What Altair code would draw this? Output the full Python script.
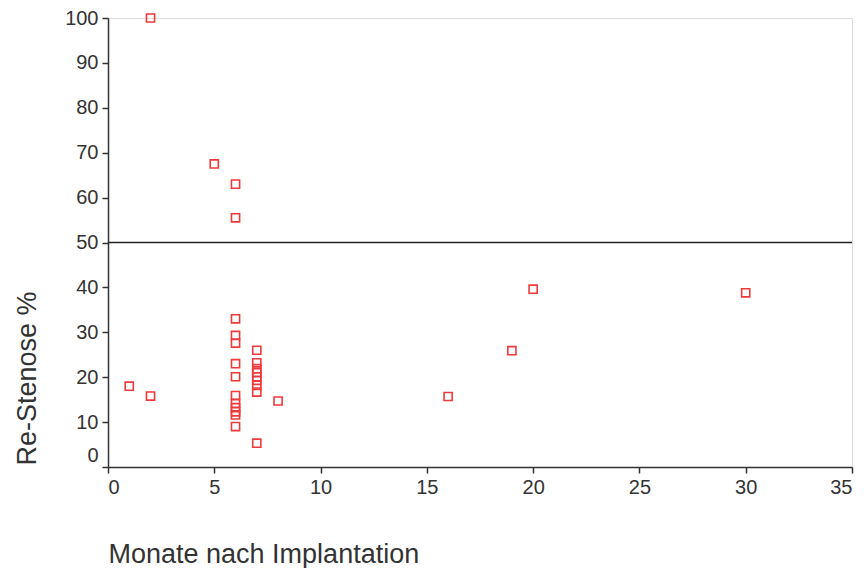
import altair as alt
import pandas as pd

months = [2, 5, 6, 6, 1, 2,
          6, 6, 6, 6, 6, 6, 6, 6, 6, 6, 6,
          7, 7, 7, 7, 7, 7, 7, 7, 7,
          8, 16, 19, 20, 30]
restenosis = [100, 67.5, 63, 55.5, 18, 15.8,
              33, 29.3, 27.6, 23, 20.1, 15.9, 14.2, 13.2, 12.3, 11.6, 9,
              26, 23.2, 21.9, 21, 20.1, 19.3, 18.2, 16.7, 5.3,
              14.7, 15.7, 25.9, 39.6, 38.8]
threshold = [50]
x_ticks = [0, 5, 10, 15, 20, 25, 30, 35]
y_ticks = [0, 10, 20, 30, 40, 50, 60, 70, 80, 90, 100]

df = pd.DataFrame({"Monate": months, "Restenose": restenosis})
df_line = pd.DataFrame({"y": threshold})

FONT = "Liberation Sans, Arial, Helvetica, sans-serif"
AXC = "#333333"

x_axis = alt.Axis(
    values=x_ticks, grid=False, domainColor=AXC, domainWidth=1.5,
    tickColor=AXC, tickWidth=1.5, tickSize=6,
    labelFont=FONT, labelFontSize=20, labelColor="#333333", labelPadding=4,
    title="Monate nach Implantation", titleFont=FONT, titleFontSize=27,
    titleFontWeight="normal", titleColor="#333333",
    titleAnchor="start", titleAlign="left", titleX=0, titleY=95,
    titleBaseline="alphabetic",
)
y_axis = alt.Axis(
    values=y_ticks, grid=False, domainColor=AXC, domainWidth=1.5,
    tickColor=AXC, tickWidth=1.5, tickSize=6,
    labelFont=FONT, labelFontSize=20, labelColor="#333333", labelPadding=4,
    labelOffset=alt.condition("datum.value == 0", alt.value(-12), alt.value(0)),
    title="Re-Stenose %", titleFont=FONT, titleFontSize=27,
    titleFontWeight="normal", titleColor="#333333",
    titleAngle=270, titleAnchor="start", titleAlign="left",
    titleX=-73, titleY=447, titleBaseline="alphabetic",
)

points = alt.Chart(df).mark_point(
    shape="square", filled=False, color="#ee3a3a", strokeWidth=1.6, size=66, opacity=1
).encode(
    x=alt.X("Monate:Q", scale=alt.Scale(domain=[0, 35], nice=False, zero=True), axis=x_axis),
    y=alt.Y("Restenose:Q", scale=alt.Scale(domain=[0, 100], nice=False), axis=y_axis),
)

line = alt.Chart(df_line).mark_rule(color="#222222", strokeWidth=1.5).encode(
    y=alt.Y("y:Q")
)

chart = alt.layer(line, points).properties(
    width=744, height=449,
    autosize=alt.AutoSizeParams(type="none"),
    padding={"left": 100, "top": 10, "right": 4, "bottom": 101},
).configure_view(
    stroke=AXC, strokeWidth=1.5
).configure(background="white")

chart.save("out.html", embed_options={"renderer": "svg", "actions": False})
